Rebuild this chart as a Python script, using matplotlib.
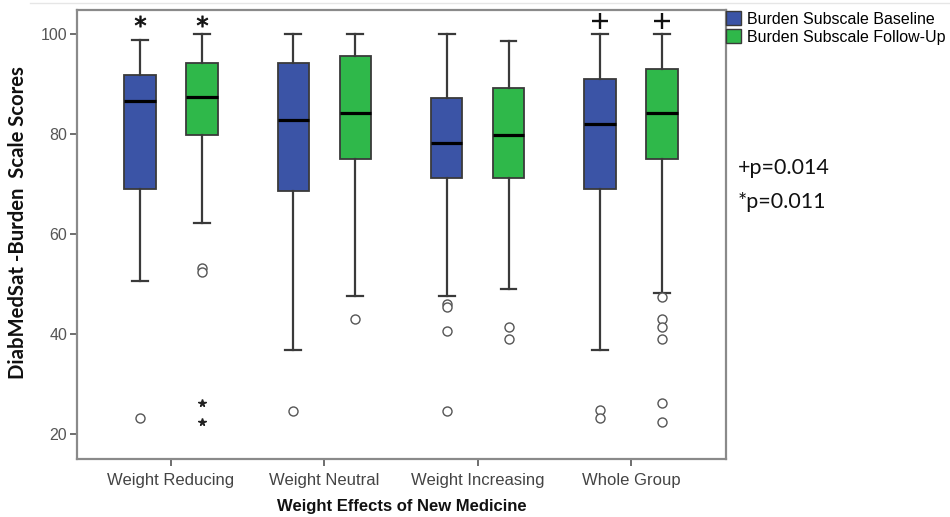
import matplotlib
matplotlib.use("Agg")
import matplotlib.pyplot as plt
from matplotlib.patches import Patch
from matplotlib.lines import Line2D

# ---- data -------------------------------------------------------------
categories = ["Weight Reducing", "Weight Neutral", "Weight Increasing", "Whole Group"]
series = ["Burden Subscale Baseline", "Burden Subscale Follow-Up"]

# Baseline box statistics per category
base_whislo = [50.6, 36.8, 47.5, 36.8]
base_q1 = [68.9, 68.5, 71.1, 68.9]
base_med = [86.5, 82.7, 78.1, 81.9]
base_q3 = [91.8, 94.2, 87.2, 91.0]
base_whishi = [98.8, 100.0, 100.0, 100.0]
base_outliers = [[23.1], [24.5], [45.9, 45.3, 40.6, 24.6], [24.8, 23.1]]
base_extremes = [[], [], [], []]

# Follow-up box statistics per category
fu_whislo = [62.1, 47.5, 49.0, 48.2]
fu_q1 = [79.7, 75.0, 71.1, 75.0]
fu_med = [87.3, 84.2, 79.7, 84.1]
fu_q3 = [94.1, 95.6, 89.1, 93.0]
fu_whishi = [100.0, 100.0, 98.6, 100.0]
fu_outliers = [[53.1, 52.3], [42.9], [41.3, 39.0], [47.4, 42.9, 41.3, 39.0, 26.1, 22.3]]
fu_extremes = [[26.1, 22.3], [], [], []]

# significance markers above boxes (category index, series index, symbol)
sig_marks = [(0, 0, "*"), (0, 1, "*"), (3, 0, "+"), (3, 1, "+")]
sig_level = 102.6
sig_notes = ["+p=0.014", "*p=0.011"]

yticks = [20, 40, 60, 80, 100]

# ---- style ------------------------------------------------------------
colors = ["#3B54A6", "#2FB84A"]
edge = "#3a3a3a"
offset = 0.202
width = 0.205

fig = plt.figure(figsize=(9.5, 5.17), dpi=100)
ax = fig.add_axes([77 / 950, 1 - 459 / 517, (726 - 77) / 950, (459 - 10) / 517])


def make_stats(lo, q1, med, q3, hi, outl, extr):
    stats = []
    for i in range(len(categories)):
        stats.append(dict(whislo=lo[i], q1=q1[i], med=med[i], q3=q3[i],
                          whishi=hi[i], fliers=[v for v in outl[i] if v not in extr[i]]))
    return stats


groups = [
    make_stats(base_whislo, base_q1, base_med, base_q3, base_whishi, base_outliers, base_extremes),
    make_stats(fu_whislo, fu_q1, fu_med, fu_q3, fu_whishi, fu_outliers, fu_extremes),
]
extremes = [base_extremes, fu_extremes]

for s, (stats, col) in enumerate(zip(groups, colors)):
    pos = [i + (2 * s - 1) * offset for i in range(len(categories))]
    ax.bxp(stats, positions=pos, widths=width, patch_artist=True,
           showfliers=True, manage_ticks=False,
           boxprops=dict(facecolor=col, edgecolor=edge, linewidth=1.3),
           medianprops=dict(color="black", linewidth=2.3),
           whiskerprops=dict(color=edge, linewidth=1.6),
           capprops=dict(color=edge, linewidth=1.6),
           capwidths=width * 0.5,
           flierprops=dict(marker="o", markersize=6.5, markerfacecolor="white",
                           markeredgecolor="#555555", markeredgewidth=1.0))
    for i, ex in enumerate(extremes[s]):
        if ex:
            ax.plot([pos[i]] * len(ex), ex, linestyle="none", marker="*",
                    markersize=5.5, color="#222222")

for ci, si, sym in sig_marks:
    x = ci + (2 * si - 1) * offset
    if sym == "+":
        ax.plot([x], [sig_level], marker="+", markersize=11, markeredgewidth=1.7,
                color="#111111", linestyle="none", clip_on=False)
    else:
        ax.plot([x], [sig_level], marker="$*$", markersize=8, markeredgewidth=0.6,
                color="#111111", linestyle="none", clip_on=False)

ax.set_xlim(-0.613, 3.62)
ax.set_ylim(14.9, 104.7)
ax.set_xticks(range(len(categories)))
ax.set_xticklabels(categories, family="Liberation Sans", fontsize=12, color="#444444")
ax.set_yticks(yticks)
ax.set_yticklabels([str(t) for t in yticks], family="Liberation Sans", fontsize=11.5,
                   color="#555555")
ax.tick_params(axis="both", direction="out", length=5, width=1.2, color="#555555", pad=2)
ax.tick_params(axis="x", pad=5)

for sp in ax.spines.values():
    sp.set_color("#8a8a8a")
    sp.set_linewidth(1.6)

ax.set_xlabel("Weight Effects of New Medicine", family="Liberation Sans",
              fontweight="bold", fontsize=12, labelpad=8, color="#111111")
ax.set_ylabel("DiabMedSat -Burden  Scale Scores", family="Lato",
              fontweight="bold", fontsize=14.6, color="#111111")
ax.yaxis.set_label_coords(-0.0755, 0.5256)

handles = [Patch(facecolor=c, edgecolor=edge, linewidth=1.0) for c in colors]
fig.legend(handles, series, loc="upper left", bbox_to_anchor=(726 / 950, 1 - 11 / 517),
           frameon=False, prop=dict(family="Liberation Sans", size=11.5),
           handlelength=0.95, handleheight=1.0, handletextpad=0.35,
           labelspacing=0.15, borderpad=0, borderaxespad=0)

for k, note in enumerate(sig_notes):
    fig.text(738 / 950, 1 - (168 + 34 * k) / 517, note, family="Lato",
             fontsize=15.5, va="center", ha="left", color="#111111")

# faint outer frame line across the top
fig.add_artist(Line2D([30 / 950, 1], [1 - 3 / 517, 1 - 3 / 517],
                      color="#e6e6e6", linewidth=1.0))

fig.savefig("out.png", dpi=100)
